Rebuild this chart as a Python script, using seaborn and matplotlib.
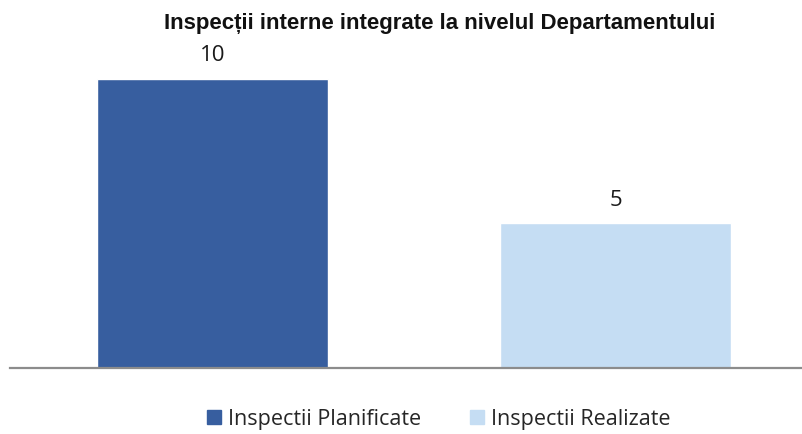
import matplotlib
matplotlib.use("Agg")
import matplotlib.pyplot as plt
import seaborn as sns
import pandas as pd
from matplotlib.lines import Line2D

categories = ["Inspectii Planificate", "Inspectii Realizate"]
values = [10, 5]
colors = ["#375E9F", "#C5DDF3"]
title = "Inspecții interne integrate la nivelul Departamentului"

sns.set_theme(style="white")
plt.rcParams["font.family"] = ["Open Sans", "DejaVu Sans"]

df = pd.DataFrame({"cat": categories, "val": values})

fig = plt.figure(figsize=(8.03, 4.34), dpi=100)
ax = fig.add_axes([10 / 803, 66 / 434, 1 - 10 / 803, 347 / 434])

sns.barplot(data=df, x="cat", y="val", hue="cat", palette=colors,
            width=0.573, legend=False, ax=ax, saturation=1)

ax.set_xlim(-0.5025, 1.465)
ax.set_ylim(0, 12)
ax.set_xlabel("")
ax.set_ylabel("")
ax.set_xticks([])
ax.set_yticks([])
for s in ["top", "right", "left"]:
    ax.spines[s].set_visible(False)
ax.spines["bottom"].set_color("#8C8C8C")
ax.spines["bottom"].set_linewidth(1.6)

for i, v in enumerate(values):
    ax.annotate(str(v), (i, v), xytext=(0, 9), textcoords="offset points",
                ha="center", va="bottom", fontsize=16, color="#1a1a1a")

fig.text(0.548, 0.945, title, ha="center", va="center", fontsize=16,
         fontweight="bold", family=["Liberation Sans", "DejaVu Sans"],
         color="#111111")

handles = [Line2D([], [], marker="s", linestyle="none", markersize=10.5,
                  markerfacecolor=c, markeredgecolor=c) for c in colors]
fig.legend(handles, categories, loc="center", bbox_to_anchor=(0.545, 0.034),
           ncol=2, frameon=False, fontsize=15.5, handletextpad=0.25,
           columnspacing=2.2, handlelength=0.8)

fig.savefig("out.png", dpi=100, facecolor="white")
